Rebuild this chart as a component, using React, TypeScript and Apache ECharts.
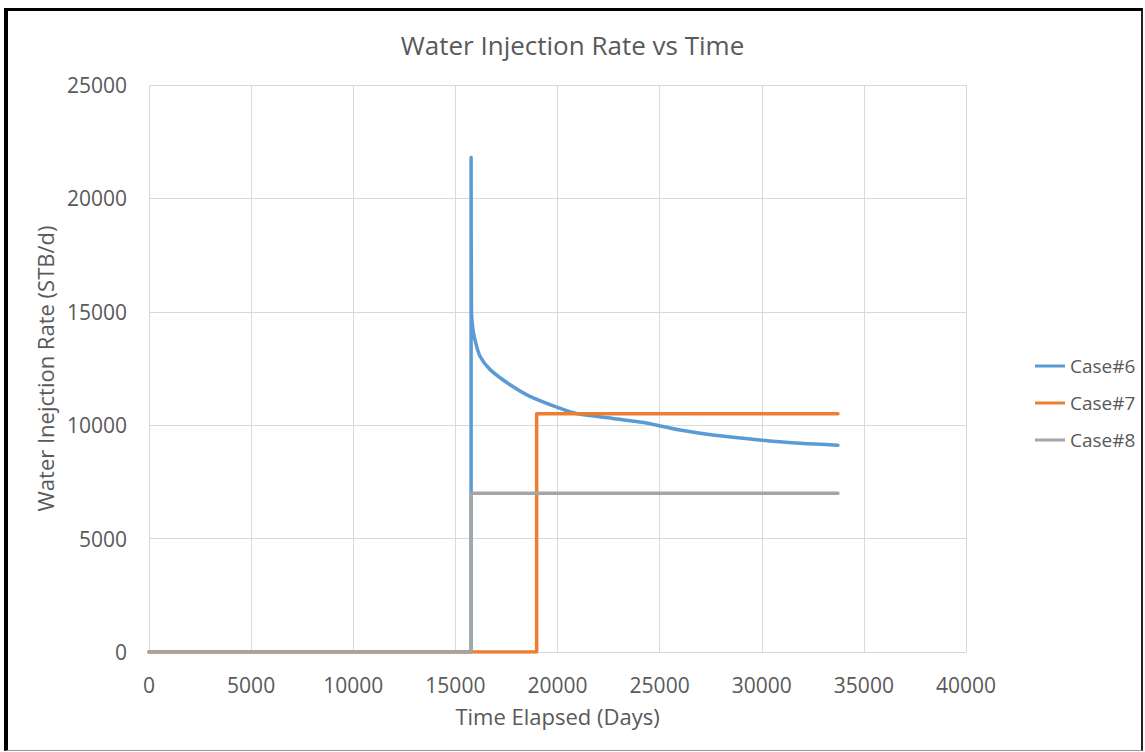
import React, { useEffect, useRef } from "react";
import * as echarts from "echarts";

const seriesNames = ["Case#6", "Case#7", "Case#8"];
const seriesColors = ["#5B9BD5", "#ED7D31", "#A5A5A5"];

const case6: [number, number][] = [
  [0, 0], [15770, 0], [15770, 21800], [15790, 15000], [15850, 14300],
  [15950, 13800], [16200, 13050], [16700, 12450], [17700, 11770],
  [18650, 11270], [20100, 10750], [21000, 10500], [22700, 10300],
  [24300, 10110], [24700, 10030], [26000, 9790], [27600, 9570],
  [29900, 9350], [31900, 9200], [33730, 9120],
];
const case7: [number, number][] = [
  [0, 0], [18980, 0], [18980, 10500], [33730, 10500],
];
const case8: [number, number][] = [
  [0, 0], [15770, 0], [15770, 7000], [33730, 7000],
];

const xTicks = { min: 0, max: 40000, interval: 5000 };
const yTicks = { min: 0, max: 25000, interval: 5000 };

const titleText = "Water Injection Rate vs Time";
const xName = "Time Elapsed (Days)";
const yName = "Water Inejction Rate (STB/d)";

const FONT = "'Open Sans', sans-serif";
const TEXT = "#595959";

export default function App() {
  const ref = useRef<HTMLDivElement>(null);
  useEffect(() => {
    if (!ref.current) return;
    const chart = echarts.init(ref.current, undefined, { renderer: "svg" });
    const data = [case6, case7, case8];
    chart.setOption({
      animation: false,
      backgroundColor: "#ffffff",
      title: {
        text: titleText,
        left: "center",
        top: 27,
        textStyle: { fontFamily: FONT, fontSize: 26, fontWeight: "normal", color: TEXT },
      },
      grid: { left: 149, right: 179, top: 85, bottom: 100, containLabel: false },
      xAxis: {
        type: "value",
        min: xTicks.min,
        max: xTicks.max,
        interval: xTicks.interval,
        name: xName,
        nameLocation: "middle",
        nameGap: 53,
        nameTextStyle: { fontFamily: FONT, fontSize: 22, color: TEXT },
        axisLine: { show: true, lineStyle: { color: "#d9d9d9", width: 1 } },
        axisTick: { show: false },
        axisLabel: { fontFamily: FONT, fontSize: 21, color: TEXT, margin: 22, formatter: (v: number) => String(v) },
        splitLine: { show: true, lineStyle: { color: "#d9d9d9", width: 1 } },
      },
      yAxis: {
        type: "value",
        min: yTicks.min,
        max: yTicks.max,
        interval: yTicks.interval,
        name: yName,
        nameLocation: "middle",
        nameGap: 92,
        nameTextStyle: { fontFamily: FONT, fontSize: 22, color: TEXT },
        axisLine: { show: false },
        axisTick: { show: false },
        axisLabel: { fontFamily: FONT, fontSize: 21, color: TEXT, margin: 22, formatter: (v: number) => String(v) },
        splitLine: { show: true, lineStyle: { color: "#d9d9d9", width: 1 } },
      },
      legend: {
        orient: "vertical",
        left: 1030,
        top: 351,
        itemWidth: 30,
        itemHeight: 20,
        itemGap: 17,
        icon: "path://M0,9 L30,9 L30,12 L0,12 Z",
        data: seriesNames.map((n, i) => ({ name: n, itemStyle: { color: seriesColors[i] } })),
        textStyle: { fontFamily: FONT, fontSize: 19, color: TEXT, lineHeight: 20 },
      },
      series: seriesNames.map((n, i) => ({
        name: n,
        type: "line",
        data: data[i],
        symbol: "none",
        showSymbol: false,
        smooth: i === 0 ? 0.3 : false,
        lineStyle: { color: seriesColors[i], width: 3.5, cap: "round", join: "round" },
        itemStyle: { color: seriesColors[i] },
      })),
    });
    return () => chart.dispose();
  }, []);
  return (
    <div style={{ position: "fixed", left: 0, top: 0, width: 1145, height: 752, background: "#fff" }}>
      <div ref={ref} style={{ position: "absolute", left: 0, top: 0, width: 1145, height: 752 }} />
      <div
        style={{
          position: "absolute",
          left: 4,
          top: 8,
          width: 1139,
          height: 743,
          boxSizing: "border-box",
          borderLeft: "4px solid #000",
          borderTop: "3px solid #000",
          borderRight: "2px solid #222",
          borderBottom: "1px solid #999",
          pointerEvents: "none",
        }}
      />
    </div>
  );
}
